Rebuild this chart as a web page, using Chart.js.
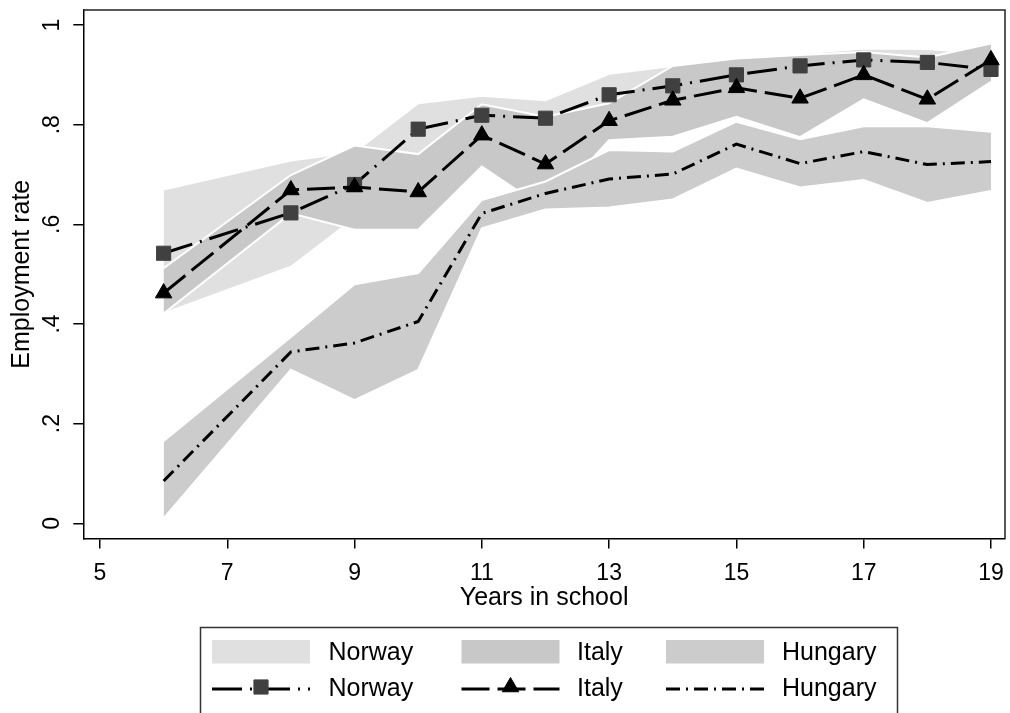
<!DOCTYPE html>
<html>
<head>
<meta charset="utf-8">
<script src="https://cdn.jsdelivr.net/npm/chart.js@4.4.0/dist/chart.umd.min.js"></script>
<style>
html,body{margin:0;padding:0;background:#fff;}
#wrap{width:1010px;height:713px;position:relative;}
canvas{display:block;}
</style>
</head>
<body>
<div id="wrap"><canvas id="c" width="1010" height="713"></canvas></div>
<script>
// ---------------- data ----------------
const years = [6, 8, 9, 10, 11, 12, 13, 14, 15, 16, 17, 18, 19];

const norwayRate = [0.542, 0.623, 0.680, 0.791, 0.819, 0.813, 0.860, 0.878, 0.900, 0.918, 0.930, 0.925, 0.911];
const norwayLow  = [0.421, 0.515, 0.612, 0.740, 0.780, 0.777, 0.820, 0.840, 0.865, 0.893, 0.907, 0.900, 0.880];
const norwayHigh = [0.670, 0.728, 0.745, 0.843, 0.858, 0.849, 0.902, 0.918, 0.935, 0.943, 0.953, 0.952, 0.942];

const italyRate = [0.462, 0.669, 0.675, 0.665, 0.779, 0.721, 0.808, 0.849, 0.874, 0.853, 0.900, 0.851, 0.930];
const italyLow  = [0.421, 0.622, 0.589, 0.589, 0.716, 0.630, 0.769, 0.776, 0.816, 0.775, 0.851, 0.803, 0.886];
const italyHigh = [0.512, 0.699, 0.758, 0.741, 0.841, 0.816, 0.843, 0.918, 0.933, 0.940, 0.946, 0.935, 0.963];

const hungaryRate = [0.085, 0.344, 0.362, 0.405, 0.622, 0.662, 0.691, 0.701, 0.761, 0.722, 0.746, 0.720, 0.726];
const hungaryLow  = [0.010, 0.308, 0.247, 0.308, 0.592, 0.630, 0.634, 0.650, 0.712, 0.674, 0.689, 0.643, 0.667];
const hungaryHigh = [0.165, 0.374, 0.480, 0.502, 0.649, 0.686, 0.749, 0.746, 0.806, 0.771, 0.797, 0.797, 0.786];

const countries = ['Norway', 'Italy', 'Hungary'];
const xTicks = [5, 7, 9, 11, 13, 15, 17, 19];
const xTickLabels = ['5', '7', '9', '11', '13', '15', '17', '19'];
const yTicks = [0, 0.2, 0.4, 0.6, 0.8, 1];
const yTickLabels = ['0', '.2', '.4', '.6', '.8', '1'];
const xTitle = 'Years in school';
const yTitle = 'Employment rate';

// ---------------- chart ----------------
const FONT = '"Liberation Sans", Arial, Helvetica, sans-serif';
Chart.defaults.font.family = FONT;
Chart.defaults.color = '#000';

const pts = arr => years.map((x, i) => ({x: x, y: arr[i]}));

function bandSets(name, low, high, color, order) {
  return [
    {label: name + ' lower', data: pts(low), borderColor: '#ffffff', borderWidth: 2,
     pointRadius: 0, fill: false, order: order - 1},
    {label: name, data: pts(high), borderColor: '#ffffff', borderWidth: 2,
     pointRadius: 0, backgroundColor: color, fill: '-1', order: order, swatch: color}
  ];
}

const bandColors = {Norway: '#e0e0e0', Italy: '#c8c8c8', Hungary: '#cccccc'};

const lineSets = [
  {label: countries[0], data: pts(norwayRate), borderColor: '#000', borderWidth: 3,
   borderDash: [30, 8, 2, 8], pointStyle: 'rect', pointRadius: 10,
   pointBackgroundColor: '#404040', pointBorderColor: '#404040', pointBorderWidth: 1,
   fill: false, order: 3},
  {label: countries[1], data: pts(italyRate), borderColor: '#000', borderWidth: 3,
   borderDash: [28, 8], pointStyle: 'triangle', pointRadius: 9.5,
   pointBackgroundColor: '#000', pointBorderColor: '#000', pointBorderWidth: 1,
   fill: false, order: 2},
  {label: countries[2], data: pts(hungaryRate), borderColor: '#000', borderWidth: 3,
   borderDash: [14, 6, 2, 6], pointRadius: 0, fill: false, order: 1}
];

const datasets = [
  ...bandSets(countries[0], norwayLow, norwayHigh, bandColors.Norway, 60),
  ...bandSets(countries[1], italyLow, italyHigh, bandColors.Italy, 50),
  ...bandSets(countries[2], hungaryLow, hungaryHigh, bandColors.Hungary, 40),
  ...lineSets
];

// rotated y tick labels + frame + legend
const stataDecor = {
  id: 'stataDecor',
  afterDraw(chart) {
    const ctx = chart.ctx;
    const ys = chart.scales.y;
    const a = chart.chartArea;
    ctx.save();
    // frame (top/right)
    ctx.strokeStyle = '#222';
    ctx.lineWidth = 1.5;
    ctx.beginPath();
    ctx.moveTo(a.left, a.top); ctx.lineTo(a.right, a.top); ctx.lineTo(a.right, a.bottom);
    ctx.stroke();
    // y tick labels, rotated
    ctx.fillStyle = '#000';
    ctx.font = '23px ' + FONT;
    ctx.textAlign = 'center';
    ctx.textBaseline = 'alphabetic';
    yTicks.forEach((v, i) => {
      const py = ys.getPixelForValue(v);
      ctx.save();
      ctx.translate(58.5, py);
      ctx.rotate(-Math.PI / 2);
      ctx.fillText(yTickLabels[i], 0, 0);
      ctx.restore();
    });
    // legend box
    ctx.strokeStyle = '#333';
    ctx.lineWidth = 1.5;
    ctx.strokeRect(200.5, 627.5, 697, 120);
    const swX = [212, 461.5, 666];
    const txX = [328.5, 577, 782];
    const swW = 98;
    ctx.font = '25px ' + FONT;
    ctx.textAlign = 'left';
    ctx.textBaseline = 'middle';
    const bands = chart.data.datasets.filter(d => d.swatch);
    bands.forEach((d, i) => {
      ctx.fillStyle = d.swatch;
      ctx.fillRect(swX[i], 640, swW, 23.5);
      ctx.fillStyle = '#000';
      ctx.fillText(d.label, txX[i], 653);
    });
    const rowY = 689;
    lineSets.forEach((d, i) => {
      ctx.save();
      ctx.strokeStyle = d.borderColor;
      ctx.lineWidth = d.borderWidth;
      ctx.setLineDash(d.borderDash);
      ctx.beginPath();
      ctx.moveTo(swX[i], rowY);
      ctx.lineTo(swX[i] + swW, rowY);
      ctx.stroke();
      ctx.restore();
      if (d.pointRadius > 0) {
        ctx.save();
        ctx.fillStyle = d.pointBackgroundColor;
        ctx.strokeStyle = d.pointBorderColor;
        ctx.lineWidth = d.pointBorderWidth;
        Chart.helpers.drawPoint(ctx, {
          pointStyle: d.pointStyle, radius: d.pointRadius, rotation: 0, borderWidth: d.pointBorderWidth
        }, swX[i] + swW / 2, rowY - 2);
        ctx.restore();
      }
      ctx.fillStyle = '#000';
      ctx.fillText(d.label, txX[i], rowY);
    });
    ctx.restore();
  }
};

new Chart(document.getElementById('c'), {
  type: 'line',
  data: {datasets: datasets},
  options: {
    responsive: false,
    animation: false,
    devicePixelRatio: 1,
    layout: {autoPadding: false, padding: {left: 0, right: 5, top: 10, bottom: 0}},
    plugins: {
      legend: {display: false},
      tooltip: {enabled: false},
      filler: {propagate: false}
    },
    elements: {line: {tension: 0, borderCapStyle: 'butt'}},
    scales: {
      x: {
        type: 'linear', min: 4.738, max: 19.22,
        afterBuildTicks: s => { s.ticks = xTicks.map(v => ({value: v})); },
        afterFit: s => { s.height = 174.5; s.paddingLeft = 0; s.paddingRight = 0; },
        grid: {display: true, drawOnChartArea: false, drawTicks: true, tickLength: 10, color: '#000', lineWidth: 1.5},
        border: {display: true, color: '#000', width: 1.5},
        ticks: {
          font: {size: 23, lineHeight: 2.157}, color: '#000', padding: 0, maxRotation: 0, autoSkip: false,
          callback: v => { const k = xTicks.indexOf(v); return k >= 0 ? xTickLabels[k] : ''; }
        },
        title: {display: true, text: xTitle, font: {size: 25}, color: '#000', padding: {top: 0, bottom: 100}}
      },
      y: {
        type: 'linear', min: -0.0305, max: 1.0302,
        afterBuildTicks: s => { s.ticks = yTicks.map(v => ({value: v})); },
        afterFit: s => { s.width = 83.3; s.paddingTop = 0; s.paddingBottom = 0; },
        grid: {display: true, drawOnChartArea: false, drawTicks: true, tickLength: 10, color: '#000', lineWidth: 1.5},
        border: {display: true, color: '#000', width: 1.5},
        ticks: {display: false},
        title: {display: true, text: yTitle, font: {size: 25}, color: '#000', padding: {top: 7, bottom: 0}}
      }
    }
  },
  plugins: [stataDecor]
});
</script>
</body>
</html>
